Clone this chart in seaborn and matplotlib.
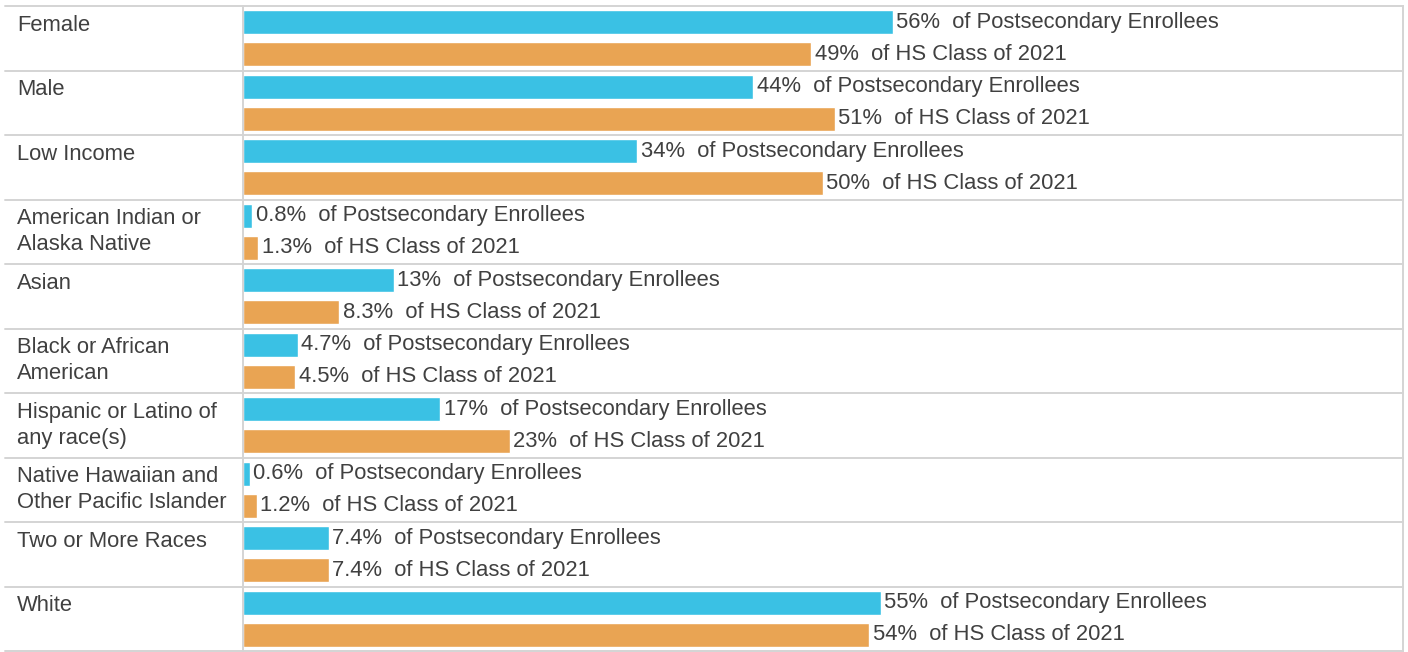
import pandas as pd
import matplotlib.pyplot as plt
import matplotlib.transforms as mtransforms
import seaborn as sns

# ==========================================
# Data
# ==========================================

groups = [
    "Female",
    "Male",
    "Low Income",
    "American Indian or\nAlaska Native",
    "Asian",
    "Black or African\nAmerican",
    "Hispanic or Latino of\nany race(s)",
    "Native Hawaiian and\nOther Pacific Islander",
    "Two or More Races",
    "White",
]

enrollees = [56, 44, 34, 0.8, 13, 4.7, 17, 0.6, 7.4, 55]
hs_class = [49, 51, 50, 1.3, 8.3, 4.5, 23, 1.2, 7.4, 54]

series_names = ["of Postsecondary Enrollees", "of HS Class of 2021"]
enrollee_labels = ["56%", "44%", "34%", "0.8%", "13%", "4.7%", "17%", "0.6%", "7.4%", "55%"]
hs_labels = ["49%", "51%", "50%", "1.3%", "8.3%", "4.5%", "23%", "1.2%", "7.4%", "54%"]

df = pd.DataFrame({
    "group": groups * 2,
    "series": [series_names[0]] * len(groups) + [series_names[1]] * len(groups),
    "value": enrollees + hs_class,
})

# ==========================================
# Style
# ==========================================

sns.set_style("white")
plt.rcParams["font.family"] = ["Liberation Sans", "DejaVu Sans"]

BLUE = "#3AC1E4"
ORANGE = "#E9A453"
TEXT = "#404040"
LINE = "#D4D4D4"
FS = 15.8

W, H = 1408, 652
fig = plt.figure(figsize=(W / 100, H / 100), dpi=100)
ax = fig.add_axes([243 / W, 1 / H, (1403 - 243) / W, (651 - 6) / H])

sns.barplot(
    data=df,
    y="group",
    x="value",
    hue="series",
    orient="h",
    palette=[BLUE, ORANGE],
    saturation=1,
    width=1.0,
    gap=0.26,
    legend=False,
    ax=ax,
)

ax.set_xlim(0, 100)
ax.set_ylim(len(groups) - 0.5, -0.5)
ax.set_xlabel("")
ax.set_ylabel("")
ax.set_xticks([])
ax.set_yticks([])

for side in ["left", "right"]:
    ax.spines[side].set_visible(True)
    ax.spines[side].set_color(LINE)
    ax.spines[side].set_linewidth(1.4)
for side in ["top", "bottom"]:
    ax.spines[side].set_visible(False)

# row separators across the whole table
trans = mtransforms.blended_transform_factory(fig.transFigure, ax.transData)
for i in range(len(groups) + 1):
    ax.plot([5 / W, 1403 / W], [i - 0.5, i - 0.5], color=LINE, lw=1.4,
            transform=trans, clip_on=False)

# left labels
for i, g in enumerate(groups):
    ax.text(17 / W, i - 0.5 + 0.135, g, transform=trans, ha="left", va="top",
            fontsize=FS, color=TEXT, linespacing=1.3)

# value labels
all_labels = [enrollee_labels, hs_labels]
for container, labels, name in zip(ax.containers, all_labels, series_names):
    for bar, lab in zip(container, labels):
        ax.text(bar.get_width() + 0.3, bar.get_y() + bar.get_height() / 2,
                f"{lab}  {name}", ha="left", va="center",
                fontsize=FS, color=TEXT)

fig.savefig("out.png", dpi=100)
